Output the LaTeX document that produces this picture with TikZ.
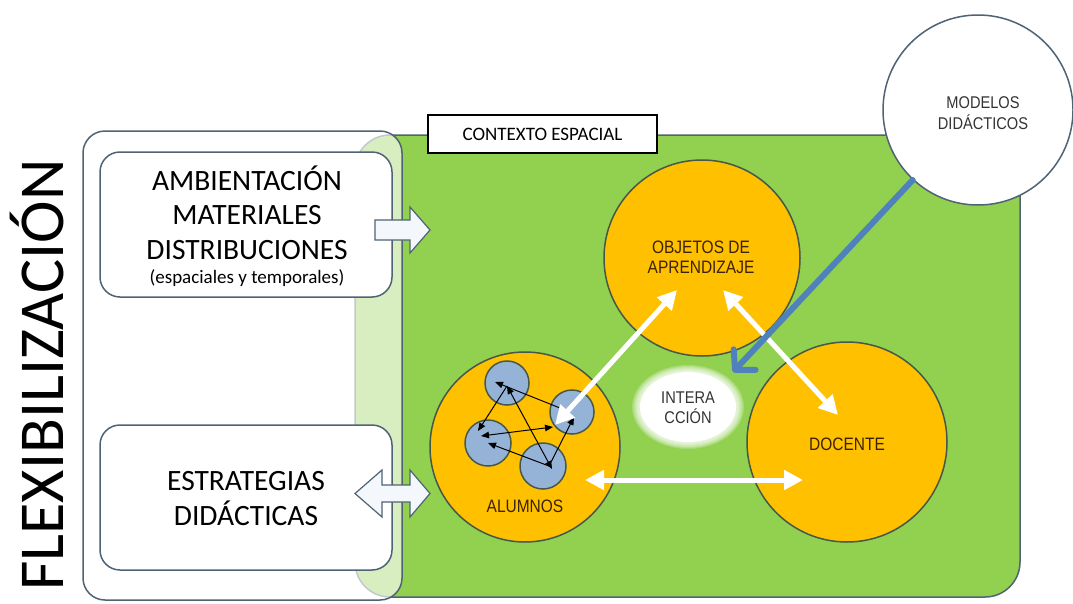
\documentclass[tikz,border=0pt]{standalone}
\usepackage{fontspec}
\setmainfont{Carlito}
\newfontfamily\arialn[FakeStretch=0.86]{Liberation Sans}
\usetikzlibrary{arrows.meta}
\definecolor{grn}{HTML}{92D050}
\definecolor{org}{HTML}{FFC000}
\definecolor{lblue}{HTML}{95B3D7}
\definecolor{sblue}{HTML}{4F81BD}
\definecolor{bord}{HTML}{4F6375}
\definecolor{cbord}{HTML}{46584A}
\definecolor{brown}{HTML}{3D2200}
\definecolor{arrfill}{HTML}{F4F8FC}
\tikzset{
  whitebox/.style={draw=bord, line width=1.5pt, fill=white, rounded corners=20pt,
    minimum width=292pt, minimum height=145pt, align=center, inner sep=0pt},
  bigcirc/.style={circle, draw=cbord, line width=1.5pt, fill=org, inner sep=0pt},
  smallcirc/.style={circle, draw=cbord, line width=1.5pt, fill=lblue, inner sep=0pt, minimum size=44pt},
  circtext/.style={font=\arialn\fontsize{18}{20}\selectfont, text=brown, align=center},
  whitearrow/.style={white, line width=5pt, {Triangle[length=19pt,width=19pt]}-{Triangle[length=19pt,width=19pt]}},
  tinyarrow/.style={black, line width=1pt, -{Triangle[length=8pt,width=6.5pt]}},
  tinyarrows/.style={black, line width=1pt, {Triangle[length=8pt,width=6.5pt]}-{Triangle[length=8pt,width=6.5pt]}},
  blockarrow/.style={draw=bord, line width=1.2pt, fill=arrfill, line join=miter}
}
\begin{document}
\begin{tikzpicture}[x=1pt,y=-1pt]
\useasboundingbox (0,0) rectangle (1073,603);
\fill[white] (0,0) rectangle (1073,603);
% green context area
\draw[rounded corners=35pt, fill=grn, draw=bord, line width=1.5pt] (355,135) rectangle (1020,597);
% outer translucent white frame
\draw[rounded corners=22pt, fill=white, fill opacity=0.65, draw=bord, line width=1.5pt] (83,131) rectangle (402,600);
% vertical title
\node[rotate=90, anchor=base, font=\fontsize{64}{64}\selectfont, inner sep=0pt] (flex) at (63,375) {FLEXIBILIZACIÓN};
% inner boxes
\node[whitebox] (amb) at (246,224.5) {};
\node[align=center, inner sep=0pt, font=\fontsize{29.5}{34.5}\selectfont] (ambt) at (247,226)
  {AMBIENTACIÓN\\MATERIALES\\DISTRIBUCIONES\\[-10pt]{\fontsize{19}{22}\selectfont (espaciales y temporales)}};
\node[whitebox] (est) at (246,497.5) {};
\node[align=center, inner sep=0pt, font=\fontsize{29.5}{35}\selectfont] (estt) at (246,499) {ESTRATEGIAS\\DIDÁCTICAS};
% block arrows
\draw[blockarrow] (375,220) -- (410,220) -- (410,207) -- (430,230) -- (410,253) -- (410,240) -- (375,240) -- cycle;
\draw[blockarrow] (355,493.5) -- (382,470) -- (382,485) -- (410,485) -- (410,470) -- (430,493.5)
  -- (410,517) -- (410,502) -- (382,502) -- (382,517) -- cycle;
% context label
\node[draw=black, line width=2pt, fill=white, minimum width=229pt, minimum height=38pt, inner sep=0pt,
  font=\fontsize{19}{19}\selectfont] (ctx) at (542.5,134) {CONTEXTO ESPACIAL};
% big circles
\node[bigcirc, minimum size=196pt] (obj) at (702,258) {};
\node[circtext] (objt) at (701,257) {OBJETOS DE\\APRENDIZAJE};
\node[bigcirc, minimum size=200pt] (doc) at (847,442) {};
\node[circtext] (doct) at (847,444) {DOCENTE};
\node[bigcirc, minimum size=190pt] (alu) at (525,447) {};
\node[circtext] (alut) at (525,506) {ALUMNOS};
% small student circles
\node[smallcirc] (s1) at (507,383) {};
\node[smallcirc] (s2) at (572,412) {};
\node[smallcirc, minimum size=46pt] (s3) at (488,443) {};
\node[smallcirc, minimum size=46pt] (s4) at (543,466) {};
\coordinate (p1a) at (495,382);
\coordinate (p1b) at (507,386);
\coordinate (p2a) at (560,408);
\coordinate (p2b) at (553,427);
\coordinate (p2c) at (574,417);
\coordinate (p3a) at (478,431);
\coordinate (p3b) at (481,436);
\coordinate (p3c) at (488,443);
\coordinate (p4a) at (552,469);
\coordinate (p4b) at (549,466);
\draw[tinyarrow] (p2a) -- (p1a);
\draw[tinyarrow] (p1b) -- (p3a);
\draw[tinyarrows] (p3b) -- (p2b);
\draw[tinyarrow] (p4b) -- (p3c);
\draw[tinyarrows] (p1b) -- (p4a);
\draw[tinyarrow] (p4b) -- (p2c);
% interaction arrows
\coordinate (w1a) at (555,425);
\coordinate (w1b) at (677,290);
\coordinate (w2a) at (723,290);
\coordinate (w2b) at (838,415);
\coordinate (w3a) at (585,480);
\coordinate (w3b) at (803,480);
\draw[whitearrow] (w1a) -- (w1b);
\draw[whitearrow] (w2a) -- (w2b);
\draw[whitearrow] (w3a) -- (w3b);
% modelos didacticos
\node[circle, draw=bord, line width=1.5pt, fill=white, minimum size=190pt, inner sep=0pt] (mod) at (978,110) {};
\node[font=\arialn\fontsize{17}{21}\selectfont, text=black!80, align=center] (modt) at (983,113) {MODELOS\\DIDÁCTICOS};
\coordinate (btip) at (733,372);
\draw[sblue, line width=6pt, line cap=round, -{Straight Barb[length=14pt,width=30pt,round]}] (mod.227) -- (btip);
% interaction ellipse (soft edge)
\foreach \i in {0,...,6} {
  \fill[white, opacity=0.2] (688,407) ellipse ({56-\i*1.2} and {42-\i*1});
}
\fill[white] (688,407) ellipse (48 and 35);
\node[font=\arialn\fontsize{17}{20}\selectfont, text=black!80, align=center] (inter) at (688,408) {INTERA\\CCIÓN};
\end{tikzpicture}
\end{document}
